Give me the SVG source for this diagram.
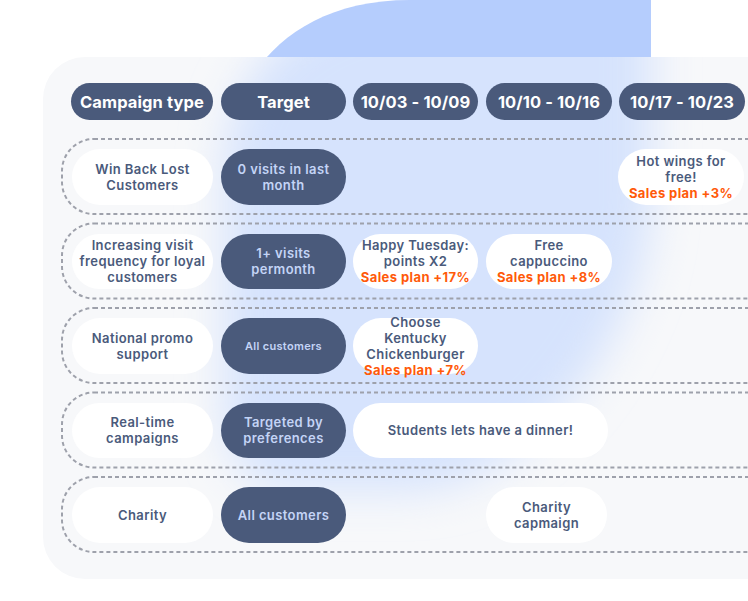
<svg xmlns="http://www.w3.org/2000/svg" width="748" height="601" viewBox="0 0 748 601">
<defs>
<style>
.hp{fill:#4a5a7b}
.ht{font-family:Inter,"Open Sans","Liberation Sans",sans-serif;font-weight:700;font-size:16.5px;letter-spacing:0.1px;fill:#ffffff;text-anchor:middle}
.wp{fill:#ffffff}
.dp{fill:#4a5a7b}
.t{font-family:Inter,"Open Sans","Liberation Sans",sans-serif;font-weight:600;font-size:13px;letter-spacing:0.4px;fill:#4a5a7b;text-anchor:middle}
.lt{fill:#c4d4f6}
.sm{font-size:11px;letter-spacing:0.3px}
.or{fill:#ff5a0a;font-weight:700}
.row{fill:none;stroke:#9ea1ab;stroke-width:2;stroke-dasharray:4 3}
</style>
<path id="blobShape" d="M410,0 L651,0 L651,200 C651,320 540,480 420,490 L300,490 C250,490 225,460 225,410 L225,170 C225,90 280,0 410,0 Z"/>
<clipPath id="panelClip"><rect x="43" y="57" width="760" height="522" rx="42"/></clipPath>
<filter id="blur" x="-50%" y="-50%" width="200%" height="200%"><feGaussianBlur stdDeviation="22"/></filter>
</defs>

<g id="background">
<use href="#blobShape" fill="#b5cdfd"/>
<rect x="43" y="57" width="760" height="522" rx="42" fill="#f7f8fa"/>
<g clip-path="url(#panelClip)">
<use href="#blobShape" fill="#d6e3fd" filter="url(#blur)"/>
</g>
</g>

<g id="rows">
<rect class="row" x="62" y="139" width="720" height="75" rx="32"/>
<rect class="row" x="62" y="223.5" width="720" height="75" rx="32"/>
<rect class="row" x="62" y="308" width="720" height="75" rx="32"/>
<rect class="row" x="62" y="392.5" width="720" height="75" rx="32"/>
<rect class="row" x="62" y="477" width="720" height="75" rx="32"/>
</g>

<g id="header">
<g id="h-campaign-type"><rect class="hp" x="71" y="83" width="142" height="37" rx="18.5"/><text class="ht" x="142" y="107.5">Campaign type</text></g>
<g id="h-target"><rect class="hp" x="221" y="83" width="125" height="37" rx="18.5"/><text class="ht" x="283.5" y="107.5">Target</text></g>
<g id="h-week1"><rect class="hp" x="353" y="83" width="125" height="37" rx="18.5"/><text class="ht" x="415.5" y="107.5">10/03 - 10/09</text></g>
<g id="h-week2"><rect class="hp" x="486" y="83" width="126" height="37" rx="18.5"/><text class="ht" x="549" y="107.5">10/10 - 10/16</text></g>
<g id="h-week3"><rect class="hp" x="619" y="83" width="126" height="37" rx="18.5"/><text class="ht" x="682" y="107.5">10/17 - 10/23</text></g>
</g>

<g id="row1">
<g id="n-winback"><rect class="wp" x="72" y="149" width="141" height="56" rx="28"/><text class="t" x="142.5" y="173.5">Win Back Lost</text><text class="t" x="142.5" y="189.5">Customers</text></g>
<g id="n-zero-visits"><rect class="dp" x="221" y="149" width="125" height="56" rx="28"/><text class="t lt" x="283.5" y="173.5">0 visits in last</text><text class="t lt" x="283.5" y="189.5">month</text></g>
<g id="n-hot-wings"><rect class="wp" x="618" y="149" width="126" height="56" rx="28"/><text class="t" x="681" y="165.5">Hot wings for</text><text class="t" x="681" y="181.5">free!</text><text class="t or" x="681" y="197.5">Sales plan +3%</text></g>
</g>

<g id="row2">
<g id="n-increasing"><rect class="wp" x="72" y="234" width="141" height="55" rx="27.5"/><text class="t" x="142.5" y="250">Increasing visit</text><text class="t" x="142.5" y="266">frequency for loyal</text><text class="t" x="142.5" y="282">customers</text></g>
<g id="n-one-visit"><rect class="dp" x="221" y="234" width="125" height="55" rx="27.5"/><text class="t lt" x="283.5" y="258">1+ visits</text><text class="t lt" x="283.5" y="274">permonth</text></g>
<g id="n-happy-tuesday"><rect class="wp" x="353" y="234" width="125" height="55" rx="27.5"/><text class="t" x="415.5" y="250">Happy Tuesday:</text><text class="t" x="415.5" y="266">points X2</text><text class="t or" x="415.5" y="282">Sales plan +17%</text></g>
<g id="n-free-cappuccino"><rect class="wp" x="486" y="234" width="126" height="55" rx="27.5"/><text class="t" x="549" y="250">Free</text><text class="t" x="549" y="266">cappuccino</text><text class="t or" x="549" y="282">Sales plan +8%</text></g>
</g>

<g id="row3">
<g id="n-national"><rect class="wp" x="72" y="318" width="141" height="56" rx="28"/><text class="t" x="142.5" y="342.5">National promo</text><text class="t" x="142.5" y="358.5">support</text></g>
<g id="n-all-customers-1"><rect class="dp" x="221" y="318" width="125" height="56" rx="28"/><text class="t lt sm" x="283.5" y="350">All customers</text></g>
<g id="n-kentucky"><rect class="wp" x="353" y="318" width="125" height="56" rx="28"/><text class="t" x="415.5" y="326.5">Choose</text><text class="t" x="415.5" y="342.5">Kentucky</text><text class="t" x="415.5" y="358.5">Chickenburger</text><text class="t or" x="415.5" y="374.5">Sales plan +7%</text></g>
</g>

<g id="row4">
<g id="n-realtime"><rect class="wp" x="72" y="403" width="141" height="55" rx="27.5"/><text class="t" x="142.5" y="427">Real-time</text><text class="t" x="142.5" y="443">campaigns</text></g>
<g id="n-targeted"><rect class="dp" x="221" y="403" width="125" height="55" rx="27.5"/><text class="t lt" x="283.5" y="427">Targeted by</text><text class="t lt" x="283.5" y="443">preferences</text></g>
<g id="n-students"><rect class="wp" x="353" y="403" width="255" height="55" rx="27.5"/><text class="t" x="480.5" y="435">Students lets have a dinner!</text></g>
</g>

<g id="row5">
<g id="n-charity"><rect class="wp" x="72" y="487" width="141" height="56" rx="28"/><text class="t" x="142.5" y="519.5">Charity</text></g>
<g id="n-all-customers-2"><rect class="dp" x="221" y="487" width="125" height="56" rx="28"/><text class="t lt" x="283.5" y="519.5">All customers</text></g>
<g id="n-charity-campaign"><rect class="wp" x="486" y="487" width="121" height="56" rx="28"/><text class="t" x="546.5" y="511.5">Charity</text><text class="t" x="546.5" y="527.5">capmaign</text></g>
</g>
</svg>
